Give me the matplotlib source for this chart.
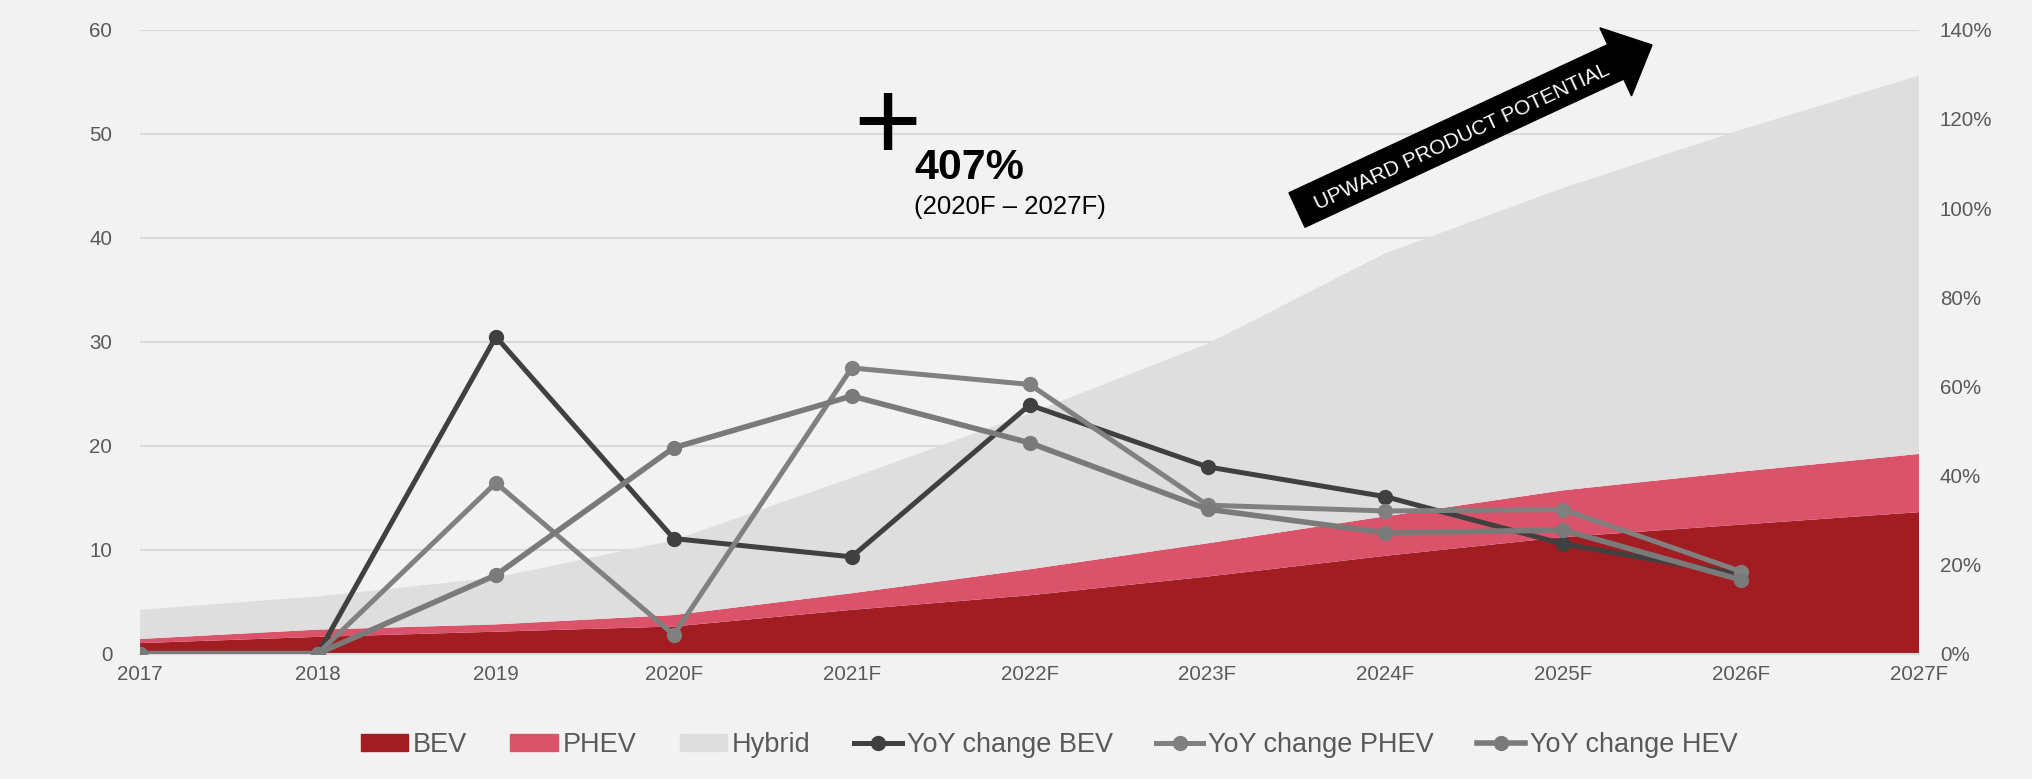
import numpy as np
import matplotlib
matplotlib.use('Agg')
import matplotlib.pyplot as plt
from matplotlib.patches import FancyArrow, Patch
from matplotlib.lines import Line2D
from matplotlib.ticker import FuncFormatter

plt.rcParams['font.family'] = ['Liberation Sans', 'DejaVu Sans']

# Data
years = ['2017', '2018', '2019', '2020F', '2021F', '2022F', '2023F',
         '2024F', '2025F', '2026F', '2027F']
bev = [1.0, 1.6, 2.1, 2.6, 4.2, 5.6, 7.4, 9.4, 11.2, 12.4, 13.6]
phev = [0.4, 0.7, 0.7, 1.1, 1.6, 2.5, 3.2, 3.8, 4.5, 5.1, 5.6]
hybrid = [2.8, 3.2, 4.5, 7.2, 11.1, 15.0, 19.2, 25.3, 29.1, 32.9, 36.4]

# YoY change, share (right axis), 2017 - 2026F
yoy_bev = [0.0, 0.0, 0.711, 0.258, 0.217, 0.558, 0.419, 0.352, 0.246, 0.177]
yoy_phev = [0.0, 0.0, 0.383, 0.042, 0.641, 0.604, 0.333, 0.320, 0.323, 0.184]
yoy_hev = [0.0, 0.0, 0.176, 0.462, 0.578, 0.473, 0.324, 0.271, 0.277, 0.165]

BG = '#F2F2F2'
C_BEV = '#A11D21'
C_PHEV = '#DB536A'
C_HYB = '#DEDEDE'
C_LBEV = '#404040'
C_LPHEV = '#808080'
C_LHEV = '#7A7A7A'
TXT = '#595959'

fig = plt.figure(figsize=(20.33, 7.79), dpi=100, facecolor=BG)
ax = fig.add_axes([0.0689, 0.1611, 0.8751, 0.8006])
ax.set_facecolor(BG)

x = np.arange(len(years))
ax.stackplot(x, bev, phev, hybrid, colors=[C_BEV, C_PHEV, C_HYB], linewidth=0)
ax.set_xlim(0, len(years) - 1)
ax.set_ylim(0, 60)
ax.set_yticks(range(0, 61, 10))
ax.set_xticks(x)
ax.set_xticklabels(years)
ax.grid(axis='y', color='#D9D9D9', linewidth=1.5)
ax.set_axisbelow(True)
for s in ['top', 'right', 'left']:
    ax.spines[s].set_visible(False)
ax.spines['bottom'].set_color('#D9D9D9')
ax.spines['bottom'].set_linewidth(1.5)
ax.tick_params(axis='both', length=0, labelsize=14.8, labelcolor=TXT)
ax.tick_params(axis='y', pad=20)
ax.tick_params(axis='x', pad=8)

ax2 = ax.twinx()
ax2.set_ylim(0, 1.4)
ax2.set_yticks(np.arange(0, 1.41, 0.2))
ax2.yaxis.set_major_formatter(FuncFormatter(lambda v, p: f'{v*100:.0f}%'))
ax2.tick_params(axis='y', length=0, labelsize=14.8, labelcolor=TXT, pad=15)
for s in ax2.spines.values():
    s.set_visible(False)

xl = x[:len(yoy_bev)]
ax2.plot(xl, yoy_bev, color=C_LBEV, lw=3.6, marker='o', ms=10, zorder=5)
ax2.plot(xl, yoy_phev, color=C_LPHEV, lw=3.6, marker='o', ms=10, zorder=5)
ax2.plot(xl, yoy_hev, color=C_LHEV, lw=4.0, marker='o', ms=10, zorder=5)

# Growth annotation
fig.text(887 / 2033, 1 - 130 / 779, '+', fontsize=84, ha='center', va='center',
         color='black')
fig.text(914 / 2033, 1 - 168 / 779, '407%', fontsize=31, fontweight='bold',
         ha='left', va='center', color='black')
fig.text(914 / 2033, 1 - 207 / 779, '(2020F \u2013 2027F)', fontsize=18.5,
         ha='left', va='center', color='black')

# Upward arrow with text (pixel coords -> inches)
tail = np.array([1297, 210])
tip = np.array([1652, 45])
d = tip - tail
t0 = np.array([tail[0] / 100, (779 - tail[1]) / 100])
dd = np.array([d[0], -d[1]]) / 100
arr = FancyArrow(t0[0], t0[1], dd[0], dd[1], width=0.38, head_width=0.75,
                 head_length=0.4, length_includes_head=True,
                 transform=fig.dpi_scale_trans, color='black', zorder=10)
fig.patches.append(arr)
ang = np.degrees(np.arctan2(-d[1], d[0]))
fig.text(1462 / 2033, 1 - 137 / 779, 'UPWARD PRODUCT POTENTIAL', fontsize=15,
         color='white', rotation=ang, rotation_mode='anchor',
         ha='center', va='center', zorder=11)

# Legend
handles = [
    Patch(color=C_BEV, label='BEV'),
    Patch(color=C_PHEV, label='PHEV'),
    Patch(color=C_HYB, label='Hybrid'),
    Line2D([], [], color=C_LBEV, lw=3.6, marker='o', ms=10, label='YoY change BEV'),
    Line2D([], [], color=C_LPHEV, lw=3.6, marker='o', ms=10, label='YoY change PHEV'),
    Line2D([], [], color=C_LHEV, lw=4.0, marker='o', ms=10, label='YoY change HEV'),
]
leg = fig.legend(handles=handles, loc='center', bbox_to_anchor=(0.516, 1 - 745 / 779),
                 ncol=6, frameon=False, fontsize=19.5, handlelength=1.75,
                 handleheight=0.6, handletextpad=0.18, columnspacing=1.6)
for t in leg.get_texts():
    t.set_color(TXT)

fig.savefig('out.png', dpi=100, facecolor=BG)
